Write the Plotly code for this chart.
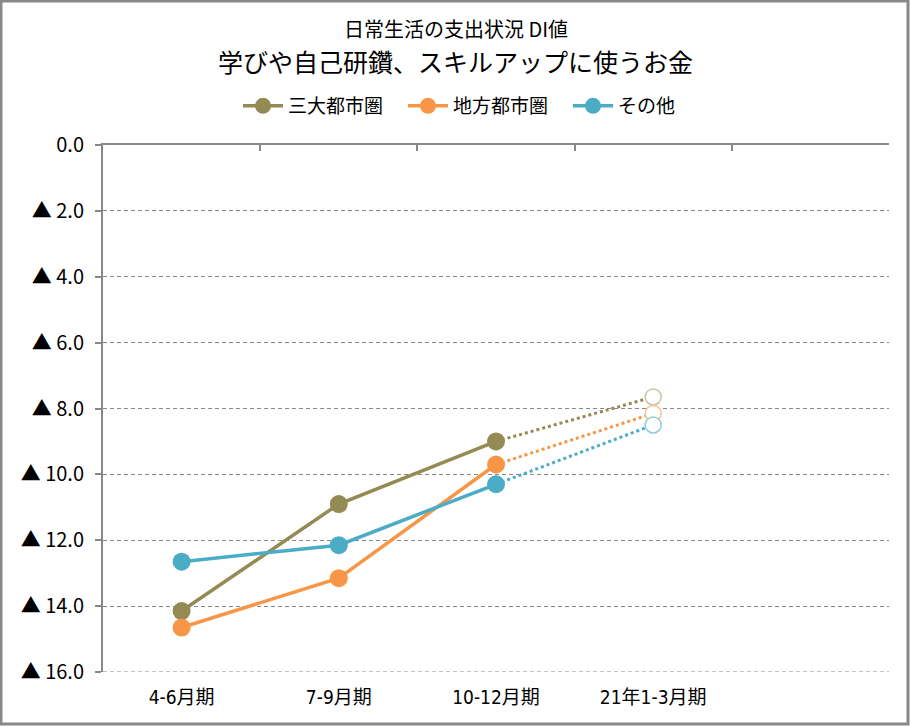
import plotly.graph_objects as go

categories = ["4-6月期", "7-9月期", "10-12月期", "21年1-3月期"]
series_names = ["三大都市圏", "地方都市圏", "その他"]
actual_values = {
    "三大都市圏": [14.15, 10.9, 9.0],
    "地方都市圏": [14.65, 13.15, 9.7],
    "その他": [12.65, 12.15, 10.3],
}
forecast_values = {
    "三大都市圏": 7.65,
    "地方都市圏": 8.15,
    "その他": 8.5,
}
colors = {"三大都市圏": "#948A54", "地方都市圏": "#F79646", "その他": "#4BACC6"}
light_colors = {"三大都市圏": "#C9C3A6", "地方都市圏": "#F9C196", "その他": "#8FCDDC"}
y_tickvals = [0, 2, 4, 6, 8, 10, 12, 14, 16]
y_ticktext = ["0.0", "▲ 2.0", "▲ 4.0", "▲ 6.0", "▲ 8.0", "▲ 10.0", "▲ 12.0", "▲ 14.0", "▲ 16.0"]
axis_slots = categories + [" "]

FONT = "DejaVu Sans Condensed, Noto Sans CJK JP, sans-serif"
JFONT = "Noto Sans CJK JP, sans-serif"

fig = go.Figure()

# dotted forecast segments (drawn first, behind)
for name in series_names:
    fig.add_trace(go.Scatter(
        x=[categories[2], categories[3]],
        y=[actual_values[name][-1], forecast_values[name]],
        mode="lines",
        line=dict(color=colors[name], width=3, dash="dot"),
        showlegend=False, hoverinfo="skip",
    ))
    fig.add_trace(go.Scatter(
        x=[categories[3]], y=[forecast_values[name]],
        mode="markers",
        marker=dict(size=16, color="white", line=dict(color=light_colors[name], width=1.5)),
        showlegend=False,
    ))

for name in series_names:
    fig.add_trace(go.Scatter(
        x=categories[:3], y=actual_values[name],
        mode="lines+markers", name=name,
        line=dict(color=colors[name], width=3.5),
        marker=dict(size=18, color=colors[name]),
    ))

# invisible trace to anchor the top axis
fig.add_trace(go.Scatter(x=[categories[0]], y=[0], xaxis="x2", mode="markers",
                         marker=dict(opacity=0), showlegend=False, hoverinfo="skip"))

fig.update_layout(
    width=911, height=727,
    margin=dict(l=103, r=22, t=145, b=55),
    paper_bgcolor="white", plot_bgcolor="white",
    font=dict(family=FONT, size=17, color="#000"),
    xaxis=dict(
        type="category", categoryorder="array", categoryarray=axis_slots,
        range=[-0.5, 4.5], showline=False, showgrid=False, ticks="",
        tickfont=dict(family=FONT, size=19), zeroline=False,
        ticklabelstandoff=12,
    ),
    xaxis2=dict(
        type="category", categoryorder="array", categoryarray=axis_slots,
        range=[-0.5, 4.5], overlaying="x", side="top", anchor="y",
        showline=True, linecolor="#888", linewidth=2,
        ticks="inside", ticklen=6, tickwidth=1.5, tickcolor="#888",
        tickson="boundaries", showticklabels=False, showgrid=False,
    ),
    yaxis=dict(
        range=[16, 0], tickvals=y_tickvals, ticktext=y_ticktext,
        showline=True, linecolor="#888", linewidth=2,
        ticks="outside", ticklen=6, tickcolor="#888", tickwidth=1.5,
        showgrid=True, gridcolor="#888", gridwidth=1, griddash="4px,3px",
        zeroline=False, tickfont=dict(family=JFONT, size=20),
        ticklabelstandoff=7,
    ),
    legend=dict(
        orientation="h", x=(238 - 103) / 786, xanchor="left", y=1.074, yanchor="middle",
        font=dict(family=JFONT, size=19), itemwidth=40,
        entrywidth=110, entrywidthmode="pixels",
        bgcolor="rgba(0,0,0,0)",
    ),
    showlegend=True,
    annotations=[
        dict(text="日常生活の支出状況 DI値", x=0.5, y=(672 - 29) / 527, xref="paper", yref="paper",
             showarrow=False, font=dict(family=JFONT, size=20), yanchor="middle", xshift=-40),
        dict(text="学びや自己研鑽、スキルアップに使うお金", x=0.5, y=(672 - 61) / 527, xref="paper", yref="paper",
             showarrow=False, font=dict(family=JFONT, size=25), yanchor="middle", xshift=-41),
    ],
    shapes=[
        dict(type="rect", xref="paper", yref="paper",
             x0=-102/786, x1=805/786, y0=-52/527, y1=671/527,
             line=dict(color="#888", width=3), layer="below"),
        dict(type="line", xref="paper", yref="y", x0=0, x1=1, y0=16, y1=16,
             line=dict(color="#888", width=1, dash="4px,3px"), layer="below"),
    ],
)

fig.write_html("out.html", post_script="document.body.style.margin='0';",
               config={"displayModeBar": False})
